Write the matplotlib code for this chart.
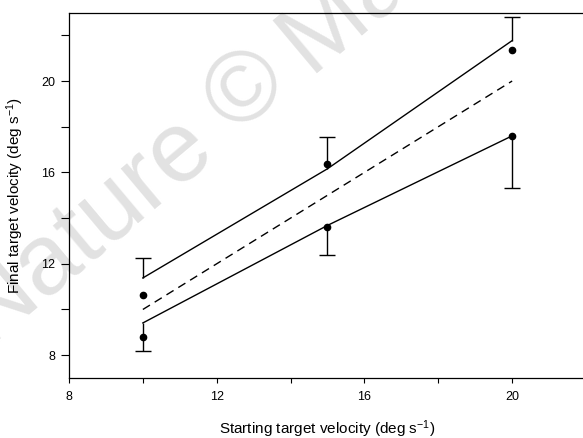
import numpy as np
import matplotlib
matplotlib.use("Agg")
import matplotlib.pyplot as plt
from matplotlib.ticker import MultipleLocator

# starting velocities (deg/s)
start_vel = [10, 15, 20]

# model lines, each with a one-sided error bar
upper_fit = [11.38, 16.16, 21.77]
upper_err = [0.87, 1.39, 1.02]
lower_fit = [9.41, 13.68, 17.60]
lower_err = [1.22, 1.28, 2.27]

# measured means
upper_mean = [10.64, 16.38, 21.38]
lower_mean = [8.80, 13.61, 17.59]

# identity (no change) line
identity_x = [10, 20]
identity_y = [10, 20]

plt.rcParams["font.family"] = ["Liberation Sans", "DejaVu Sans"]
plt.rcParams["mathtext.fontset"] = "custom"
plt.rcParams["mathtext.rm"] = "Liberation Sans"
plt.rcParams["mathtext.it"] = "Liberation Sans:italic"
plt.rcParams["mathtext.default"] = "regular"

W, H = 583, 438
fig = plt.figure(figsize=(W / 100, H / 100), dpi=100)
ax = fig.add_axes([69 / W, 60 / H, 517 / W, 365.5 / H])
ax.set_facecolor("none")

# faint watermark behind the axes, laid out word by word around the copyright sign
theta = 40
d = np.array([np.cos(np.radians(theta)), np.sin(np.radians(theta))])
c = np.array([246.0, H - 92.0])
wm = dict(fontsize=72, color="#e2e2e2", rotation=theta, rotation_mode="anchor",
          va="center", zorder=-1)
for word, off, ha in [("Nature", -60, "right"), ("\u00a9", 0, "center"),
                      ("Macmillan", 60, "left")]:
    p = c + off * d
    fig.text(p[0] / W, p[1] / H, word, ha=ha, **wm)

# error-bar stems and caps
x = np.array(start_vel)
up_top = np.array(upper_fit) + np.array(upper_err)
lo_bot = np.array(lower_fit) - np.array(lower_err)
ax.vlines(x, upper_fit, up_top, color="black", lw=1.0)
ax.vlines(x, lo_bot, lower_fit, color="black", lw=1.0)
ax.plot(x, up_top, "_", color="black", ms=11, mew=1.0)
ax.plot(x, lo_bot, "_", color="black", ms=11, mew=1.0)

ax.plot(start_vel, upper_fit, color="black", lw=1.0)
ax.plot(start_vel, lower_fit, color="black", lw=1.0)
ax.plot(identity_x, identity_y, color="black", lw=1.0, dashes=(6, 4))
ax.plot(start_vel, upper_mean, "o", color="black", ms=4.5)
ax.plot(start_vel, lower_mean, "o", color="black", ms=4.5)

ax.set_xlim(8, 22)
ax.set_ylim(7, 23)
ax.xaxis.set_major_locator(MultipleLocator(4))
ax.xaxis.set_minor_locator(MultipleLocator(2))
ax.yaxis.set_major_locator(MultipleLocator(4))
ax.yaxis.set_minor_locator(MultipleLocator(2))
ax.tick_params(which="both", direction="out", width=0.8, labelsize=9)
ax.tick_params(axis="x", which="both", length=3.5, pad=6)
ax.tick_params(axis="y", which="both", length=6, pad=4)

ax.spines["right"].set_visible(False)
for s in ("left", "top", "bottom"):
    ax.spines[s].set_linewidth(0.9)

ax.set_xlabel("Starting target velocity (deg s$^{-1}$)", fontsize=11, labelpad=11)
ax.set_ylabel("Final target velocity (deg s$^{-1}$)", fontsize=11, labelpad=11)

fig.savefig("out.png", dpi=100)
